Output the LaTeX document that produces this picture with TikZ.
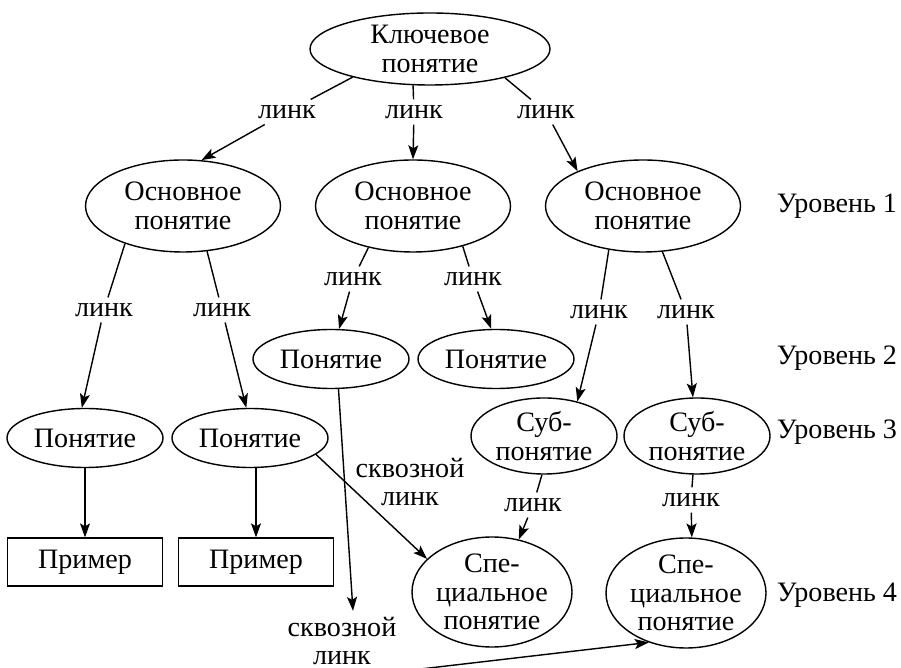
\documentclass[tikz,border=0pt]{standalone}
\usepackage{fontspec}
\setmainfont{Liberation Serif}
\usetikzlibrary{shapes.geometric,arrows.meta}

\begin{document}
\begin{tikzpicture}[>={Stealth[length=1.4mm,width=1mm,inset=0.3mm]},
  font=\fontsize{8pt}{8.2pt}\selectfont,
  bubble/.style={draw,ellipse,inner sep=0pt,align=center},
  osn/.style={bubble,minimum width=1.95cm,minimum height=0.92cm},
  pon/.style={bubble,minimum width=1.56cm,minimum height=0.59cm},
  sub/.style={bubble,minimum width=1.46cm,minimum height=0.76cm},
  spez/.style={bubble,minimum width=1.6cm,minimum height=1.1cm},
  bsp/.style={draw,minimum width=1.55cm,minimum height=0.43cm},
  lnk/.style={inner sep=1.5pt,align=center}]
  \useasboundingbox (0,0) rectangle (9.01,6.67);

  % Knoten
  \node[bubble,minimum width=2.4cm,minimum height=0.72cm] (key) at (4.30,6.18) {Ключевое\\понятие};
  \node[osn] (b1) at (1.83,4.61) {Основное\\понятие};
  \node[osn] (b2) at (4.13,4.61) {Основное\\понятие};
  \node[osn] (b3) at (6.43,4.61) {Основное\\понятие};
  \node[pon] (c1) at (3.31,3.08) {Понятие};
  \node[pon] (c2) at (4.96,3.08) {Понятие};
  \node[pon] (c3) at (0.85,2.29) {Понятие};
  \node[pon] (c4) at (2.50,2.29) {Понятие};
  \node[sub] (s1) at (5.44,2.31) {Суб-\\понятие};
  \node[sub] (s2) at (6.97,2.31) {Суб-\\понятие};
  \node[bsp] (e1) at (0.85,1.05) {Пример};
  \node[bsp] (e2) at (2.56,1.05) {Пример};
  \node[spez] (p1) at (4.92,0.75) {Спе-\\циальное\\понятие};
  \node[spez] (p2) at (6.86,0.74) {Спе-\\циальное\\понятие};

  % Ebenen
  \node (u1) at (8.37,4.61) {Уровень 1};
  \node (u2) at (8.37,3.09) {Уровень 2};
  \node (u3) at (8.37,2.35) {Уровень 3};
  \node (u4) at (8.37,0.72) {Уровень 4};

  % Beschriftungen
  \node[lnk] (l01) at (2.87,5.55) {линк};
  \node[lnk] (l02) at (4.14,5.55) {линк};
  \node[lnk] (l03) at (5.46,5.55) {линк};
  \node[lnk] (l11) at (1.04,3.57) {линк};
  \node[lnk] (l12) at (2.22,3.57) {линк};
  \node[lnk] (l21) at (3.53,3.88) {линк};
  \node[lnk] (l22) at (4.73,3.88) {линк};
  \node[lnk] (l31) at (5.99,3.55) {линк};
  \node[lnk] (l32) at (6.86,3.55) {линк};
  \node[lnk] (l41) at (5.33,1.62) {линк};
  \node[lnk] (l42) at (6.91,1.67) {линк};
  \node[lnk] (t1) at (4.10,1.85) {сквозной\\линк};
  \node[lnk] (t2) at (3.42,0.26) {сквозной\\линк};

  % Verbindungen
  \draw (key.200) -- (l01); \draw[->] (l01) -- (b1.68);
  \draw (key.245) -- (l02); \draw[->] (l02) -- (b2.north);
  \draw (key.-21) -- (l03); \draw[->] (l03) -- (b3.152);
  \draw (b1.213) -- (l11); \draw[->] (l11) -- (c3.96);
  \draw (b1.-62) -- (l12); \draw[->] (l12) -- (c4.97);
  \draw (b2.223) -- (l21); \draw[->] (l21) -- (c1.75);
  \draw (b2.-39) -- (l22); \draw[->] (l22) -- (c2.99);
  \draw (b3.232) -- (l31); \draw[->] (l31) -- (s1.46);
  \draw (b3.-67) -- (l32); \draw[->] (l32) -- (s2.96);
  \draw (s1.-93) -- (l41); \draw[->] (l41) -- (p1.63);
  \draw (s2.-96) -- (l42); \draw[->] (l42) -- (p2.84);
  \draw[->] (c3) -- (e1);
  \draw[->] (c4.south -| e2.north) -- (e2.north);
  \draw[->] (c4.-14) -- (p1.153);
  \draw[->] (c1.-76) -- (t2.70);
  \draw[->] (t2.south east) -- (p2.233);
\end{tikzpicture}
\end{document}
